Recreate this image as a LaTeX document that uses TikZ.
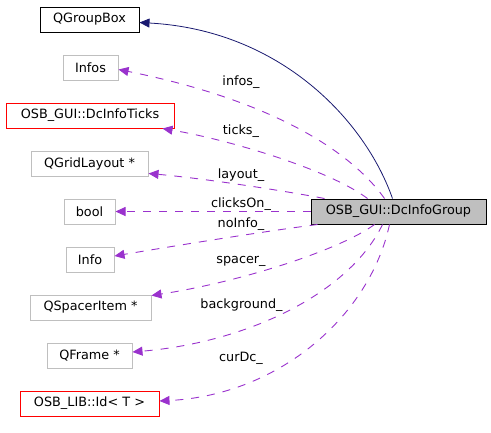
\documentclass[tikz,border=0pt]{standalone}
\usepackage{fontspec}
\setmainfont{DejaVu Sans}
\usetikzlibrary{arrows.meta}
\definecolor{memb}{HTML}{9A32CD}
\definecolor{inh}{HTML}{191970}
\definecolor{gbord}{HTML}{BFBFBF}
\begin{document}
\begin{tikzpicture}[x=1pt,y=-1pt,
  every node/.style={font=\fontsize{12.8}{15}\selectfont},
  cls/.style={draw=gbord,line width=1pt,minimum height=25pt,inner sep=0pt,anchor=center},
  redcls/.style={cls,draw=red},
  blkcls/.style={cls,draw=black},
  maincls/.style={cls,draw=black,fill=gbord},
  memedge/.style={draw=memb,line width=0.9pt,dash pattern=on 8pt off 8pt,
     -{Triangle[length=10pt,width=9pt,fill=memb]}},
  inhedge/.style={draw=inh,line width=0.8pt,
     -{Triangle[length=10pt,width=9pt,fill=inh]}},
  lbl/.style={anchor=base,inner sep=0pt}]
\useasboundingbox (0,0) rectangle (491,432);
\node[blkcls,minimum width=99pt] (qg) at (89.5,19.5) {QGroupBox};
\node[cls,minimum width=55pt] (infos) at (90.5,67.5) {Infos};
\node[redcls,minimum width=168pt] (ticks) at (90,115.5) {OSB\_GUI::DcInfoTicks};
\node[cls,minimum width=117pt] (lay) at (89.5,163.5) {QGridLayout *};
\node[cls,minimum width=51pt] (bool) at (89.5,211.5) {bool};
\node[cls,minimum width=48pt] (info) at (90,259.5) {Info};
\node[cls,minimum width=121pt] (sp) at (90.5,307.5) {QSpacerItem *};
\node[cls,minimum width=85pt] (fr) at (89.5,355.5) {QFrame *};
\node[redcls,minimum width=139pt] (id) at (89.5,403.5) {OSB\_LIB::Id< T >};
\node[maincls,minimum width=175pt] (g) at (398.5,211.5) {OSB\_GUI::DcInfoGroup};

\draw[inhedge] ([xshift=82pt]g.north west) .. controls (365,120) and (280,30) .. ([yshift=-3pt]qg.east);
\draw[memedge] ([xshift=74pt]g.north west) .. controls (350,150) and (270,100) .. ([yshift=-2pt]infos.east);
\draw[memedge] ([xshift=57pt]g.north west) .. controls (330,170) and (230,140) .. ([xshift=-12pt]ticks.south east);
\draw[memedge] ([xshift=14pt]g.north west) .. controls (280,190) and (200,178) .. ([yshift=3pt]lay.south east);
\draw[memedge] (g.west) -- (bool.east);
\draw[memedge] ([xshift=7pt]g.south west) .. controls (260,232) and (180,245) .. ([yshift=3.5pt]info.east);
\draw[memedge] ([xshift=64pt]g.south west) .. controls (340,250) and (240,282) .. ([yshift=-1pt]sp.north east);
\draw[memedge] ([xshift=72pt]g.south west) .. controls (350,292) and (250,342) .. ([yshift=3.5pt]fr.east);
\draw[memedge] ([xshift=79pt]g.south west) .. controls (370,315) and (280,395) .. ([yshift=2.5pt]id.east);

\node[lbl] (l1) at (241,85) {infos\_};
\node[lbl] (l2) at (241,134) {ticks\_};
\node[lbl] (l3) at (241,178) {layout\_};
\node[lbl] (l4) at (241,207.5) {clicksOn\_};
\node[lbl] (l5) at (241,227.5) {noInfo\_};
\node[lbl] (l6) at (241,263) {spacer\_};
\node[lbl] (l7) at (241.5,308) {background\_};
\node[lbl] (l8) at (241,361) {curDc\_};
\end{tikzpicture}
\end{document}
